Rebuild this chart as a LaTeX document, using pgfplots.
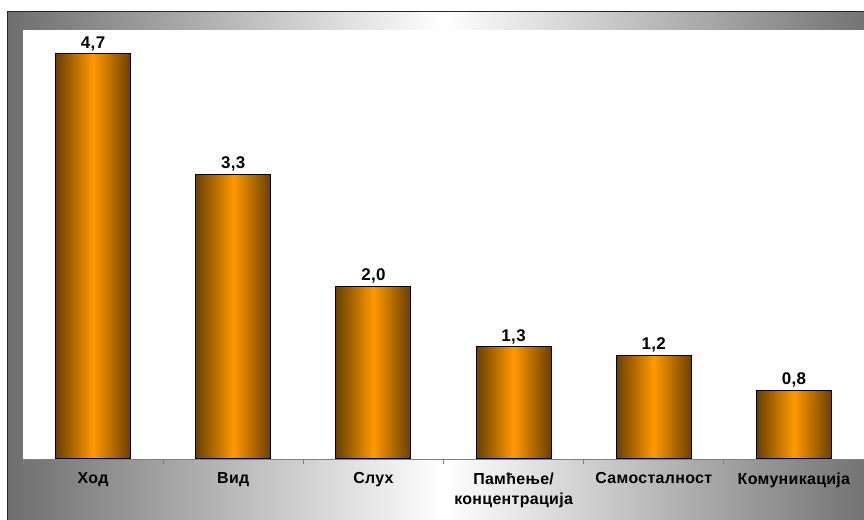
\documentclass[border=0pt]{standalone}
\usepackage{fontspec}
\setmainfont{Liberation Sans}[LetterSpace=2]
\usepackage{pgfplots}
\pgfplotsset{compat=1.18}

\definecolor{barorange}{HTML}{FF9900}
\definecolor{baredge}{HTML}{6A4000}
\definecolor{framegray}{HTML}{6E6E6E}
\definecolor{axisgray}{HTML}{808080}

\pgfplotsset{
    shadedbar/.style={draw=black, line width=1bp, shading=axis,
        left color=baredge, right color=baredge, middle color=barorange},
}

\begin{document}
\begin{tikzpicture}[x=1bp, y=1bp]
    \useasboundingbox (0,0) rectangle (864,520);
    \clip (0,0) rectangle (864,520);
    % gray frame with horizontal gradient
    \shade[left color=framegray, right color=framegray, middle color=white]
        (7.5,-10) rectangle (880,508.5);
    \draw[line width=1.6bp, black!85] (7.5,-10) -- (7.5,508.5) -- (880,508.5);
    % white plot area
    \fill[white] (22.5,61) rectangle (880,490);

    \begin{axis}[
        at={(23bp,61bp)}, anchor=south west,
        scale only axis,
        width=841bp, height=431bp,
        xmin=-0.5, xmax=5.5,
        ymin=0, ymax=5,
        axis x line=bottom,
        axis y line=none,
        axis line style={axisgray, line width=0.8bp, -},
        xtick={0,1,2,3,4,5},
        xticklabels={Ход, Вид, Слух, {Памћење/\\концентрација}, Самосталност, Комуникација},
        major tick length=0pt,
        extra x ticks={-0.5,0.5,1.5,2.5,3.5,4.5,5.5},
        extra x tick labels={},
        extra x tick style={major tick length=5bp, tick align=outside,
            tick style={axisgray, line width=0.8bp}},
        xticklabel style={font=\fontsize{16}{21}\selectfont\bfseries,
            align=center, anchor=north, yshift=-10bp},
        ybar,
        bar width=75bp,
        bar shift=0pt,
        nodes near coords={\pgfmathprintnumber[fixed, fixed zerofill,
            precision=1, use comma, assume math mode=true]{\pgfplotspointmeta}},
        every node near coord/.append style={
            font=\fontsize{17}{20}\selectfont\bfseries, black, inner sep=2.5bp},
        clip=false,
    ]
    \addplot[shadedbar] coordinates {(0,4.7)};
    \addplot[shadedbar] coordinates {(1,3.3)};
    \addplot[shadedbar] coordinates {(2,2.0)};
    \addplot[shadedbar] coordinates {(3,1.3)};
    \addplot[shadedbar] coordinates {(4,1.2)};
    \addplot[shadedbar] coordinates {(5,0.8)};
    \end{axis}
\end{tikzpicture}
\end{document}
